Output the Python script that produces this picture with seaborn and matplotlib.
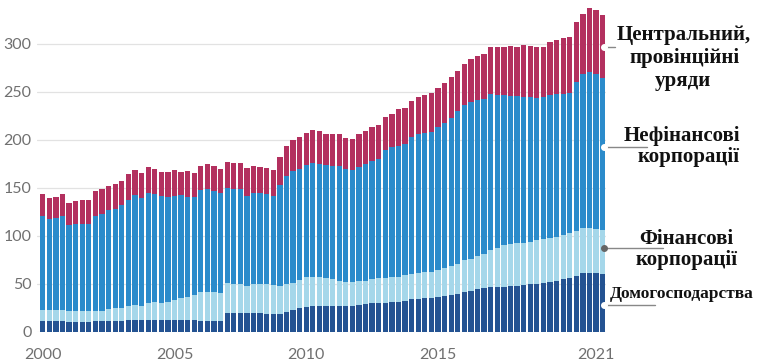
import numpy as np
import pandas as pd
import matplotlib.pyplot as plt
import seaborn as sns

sns.set_theme(style='white')
plt.rcParams['font.family'] = ['Lato', 'DejaVu Sans']

# quarterly, 2000Q1 .. 2021Q2
quarters = [f'{y}Q{q}' for y in range(2000, 2022) for q in range(1, 5)][:86]

households = [
    11, 11, 11, 11, 10, 10, 10, 10, 11, 11, 11, 11, 11, 12, 12, 12,
    12, 12, 12, 12, 12, 11.5, 11.5, 11.5, 11, 11, 11, 11, 19, 19.5, 19.5, 19,
    19, 19, 18.5, 18, 18.2, 20.3, 22.4, 24, 26, 26.6, 26.6, 26.6, 26.6, 26.6,
    27, 27, 27.6, 28.6, 29.3, 29.5, 30, 30.4, 31, 32, 33.5, 34, 34.5, 35.2,
    35.6, 37, 38, 39, 40.8, 42.5, 44, 45, 46, 46.5, 46.5, 47, 47.5, 48.4,
    49, 50, 51, 52, 53, 54.3, 55.4, 57.8, 60.6, 61.3, 61, 60,
]
financial = [
    11.5, 11.5, 11.5, 11.5, 11, 11, 11, 11, 10, 10.5, 12.5, 13, 13, 15, 16, 15,
    18, 19, 18, 19, 21, 23.5, 24.5, 26.5, 30, 30, 30, 29, 31.5, 30.5, 30, 28.5,
    30, 30, 31, 30.5, 29.2, 29.2, 28.6, 29.6, 30.4, 30.4, 29.8, 28.8, 27.8, 26.4,
    25, 25, 25, 24.4, 25.1, 25.9, 25.5, 26, 26, 26.8, 26.5, 26.6, 27.1, 26.4,
    28.4, 28.8, 30, 31, 33.7, 33.5, 34.6, 35.4, 39, 41, 43.5, 43.8, 44.5, 44.1,
    44.6, 45.3, 45, 45, 45, 46.2, 46.9, 47.2, 46.9, 46.2, 45.4, 45.7,
]
nonfinancial = [
    98, 95.2, 95.9, 98, 90, 91.5, 91, 91, 99, 100.5, 103.5, 104, 107.6, 110.5, 113.7, 112,
    114, 112, 111, 108.6, 108, 107, 104, 101.6, 106, 107, 105.5, 104.4, 98.5, 98.6, 98.5, 93.5,
    95.4, 95, 94, 92.5, 105.2, 112.5, 116, 115.4, 116.6, 119, 118.1, 117.6, 118, 119,
    117.6, 116, 119.1, 121.5, 123.6, 124.6, 133.5, 135.6, 136, 136.2, 143, 145.1, 144.8, 146.4,
    148.7, 151, 154.7, 159.7, 161.5, 163.4, 162.4, 161.4, 162, 158.9, 156.4, 154.9, 153.3, 152.1,
    150.4, 147.7, 148, 149.4, 149, 146.9, 145.7, 155, 160.5, 163.2, 161.6, 158,
]
government = [
    22.5, 21.3, 22.2, 23.2, 23, 23.5, 24.5, 25, 26, 26, 25, 25.5, 25.4, 26.5, 27, 26.6,
    27, 25.8, 25.3, 26.7, 27, 24.3, 27, 25.7, 25.6, 26, 25.7, 24.6, 27.4, 27.4, 27.7, 29.5,
    28.2, 27.5, 27.1, 27.2, 29.4, 31, 32.5, 34, 34, 34, 34, 32.7, 33, 33.4,
    32.4, 33, 34.3, 34.5, 34.7, 35, 34.8, 34.6, 38.4, 37.5, 37, 38.9, 40, 40,
    41.3, 42.2, 42.3, 41.3, 42.6, 44.1, 46, 47.2, 49.5, 50.1, 50.3, 52, 51.4, 53.8,
    53.7, 53.7, 52, 55.6, 56.6, 58, 58.4, 62.7, 62.7, 65.9, 66.9, 66,
]

series_labels = {
    'government': ['Центральний,', 'провінційні', 'уряди'],
    'nonfinancial': ['Нефінансові', 'корпорації'],
    'financial': ['Фінансові', 'корпорації'],
    'households': ['Домогосподарства'],
}
colors = {
    'households': '#245392',
    'financial': '#a5d7ea',
    'nonfinancial': '#2b8bcb',
    'government': '#b3305f',
}

df = pd.DataFrame({
    'quarter': quarters,
    'households': households,
    'financial': financial,
    'nonfinancial': nonfinancial,
    'government': government,
})
order = ['households', 'financial', 'nonfinancial', 'government']
cum = df[order].cumsum(axis=1)
bottoms = cum - df[order]

fig = plt.figure(figsize=(7.61, 3.64), dpi=100)
ax = fig.add_axes([37 / 761, 32.5 / 364, 569 / 761, 331.2 / 364])

# stacked bars: draw cumulative tops, tallest first
for name in reversed(order):
    plot_df = pd.DataFrame({'quarter': quarters, 'top': cum[name]})
    sns.barplot(data=plot_df, x='quarter', y='top', color=colors[name],
                saturation=1, width=0.8, linewidth=0, errorbar=None, ax=ax)

ax.set_xlim(-0.87, 85.5)
ax.set_ylim(0, 345)
ax.set_xlabel('')
ax.set_ylabel('')

major = [0, 20, 40, 60, 84]
ax.set_xticks(major, ['2000', '2005', '2010', '2015', '2021'])
ax.set_xticks([i * 4 for i in range(22) if i * 4 not in major], minor=True)
ax.set_yticks(range(0, 301, 50))
ax.tick_params(axis='x', which='major', length=9, width=1, color='#cfcfcf',
               labelcolor='#707070', labelsize=11.5, pad=3)
ax.tick_params(axis='x', which='minor', length=5.5, width=1, color='#cfcfcf')
ax.tick_params(axis='y', length=0, labelcolor='#707070', labelsize=11.5, pad=4)
ax.yaxis.grid(True, color='#e2e2e2', lw=0.9)
ax.xaxis.grid(False)
ax.set_axisbelow(True)
for s in ax.spines.values():
    s.set_visible(False)

# leader lines from the last bar to the labels
last = len(quarters) - 1
line_end = {'government': 86.8, 'nonfinancial': 91.7, 'financial': 94.1, 'households': 92.9}
anchor = {'government': 0.5, 'nonfinancial': 0.55, 'financial': 0.6, 'households': 0.46}
for name in order:
    mid = bottoms[name].iloc[last] + df[name].iloc[last] * anchor[name]
    ax.plot([last + 0.4, line_end[name]], [mid, mid], color='#888888', lw=1,
            clip_on=False, zorder=5)
    fc = '#666666' if name == 'financial' else 'white'
    ax.plot(last + 0.15, mid, 'o', ms=4, mfc=fc, mec=fc, clip_on=False, zorder=6)

# labels (figure pixel positions)
label_pos = {
    'government': [(684, 35), (685, 58), (683, 81)],
    'nonfinancial': [(682, 136), (689, 157)],
    'financial': [(686, 239), (687, 260)],
    'households': [(682, 294)],
}
for name, lines in series_labels.items():
    size = 12.5 if name == 'households' else 15
    for text, (px, py) in zip(lines, label_pos[name]):
        fig.text(px / 761, 1 - py / 364, text, ha='center', va='center',
                 family=['Liberation Serif', 'DejaVu Serif'], weight='bold',
                 size=size, color='#111111')

fig.savefig('out.png', dpi=100)
